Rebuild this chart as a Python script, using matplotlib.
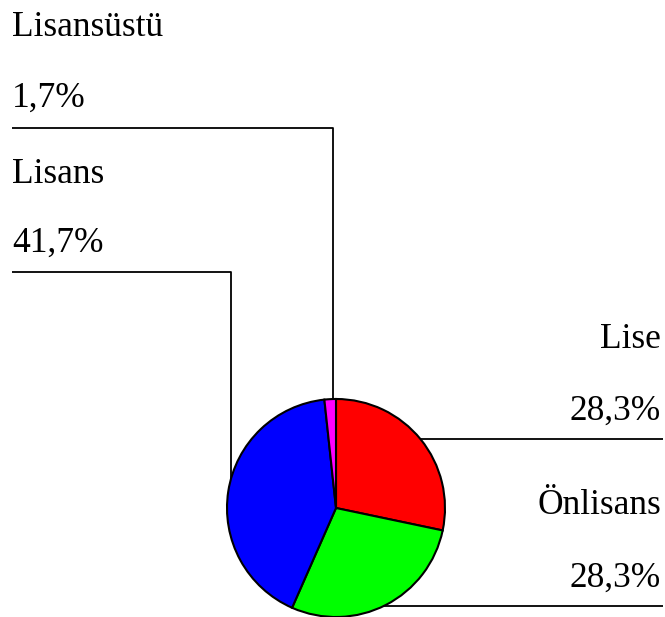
import matplotlib

matplotlib.use("Agg")
import matplotlib.pyplot as plt

labels = ["Lise", "Önlisans", "Lisans", "Lisansüstü"]
shares = [28.3, 28.3, 41.7, 1.7]
colors = ["#ff0000", "#00ff00", "#0000ff", "#ff00ff"]
pct_labels = ["28,3%", "28,3%", "41,7%", "1,7%"]

W, H = 665, 617
fig = plt.figure(figsize=(W / 100, H / 100), dpi=100)
ax = fig.add_axes([0, 0, 1, 1])

cx, cy, r = 336, H - 508, 109
ax.pie(
    shares,
    colors=colors,
    startangle=90,
    counterclock=False,
    center=(cx, cy),
    radius=r,
    frame=True,
    wedgeprops=dict(edgecolor="black", linewidth=1.5),
)
ax.set_xlim(0, W)
ax.set_ylim(0, H)
ax.set_aspect("equal")
ax.axis("off")


def img(y):
    return H - y


line_kw = dict(color="black", linewidth=1.3, solid_capstyle="butt")
# leader lines
ax.plot([12, 333, 333], [img(128), img(128), img(400)], **line_kw)
ax.plot([12, 231, 231], [img(272), img(272), img(479)], **line_kw)
ax.plot([420, 663], [img(439), img(439)], **line_kw)
ax.plot([383, 663], [img(606), img(606)], **line_kw)

font = dict(family="Liberation Serif", fontsize=25.5, va="baseline")
ax.text(12, img(36), labels[3], ha="left", **font)
ax.text(12, img(107), pct_labels[3], ha="left", **font)
ax.text(12, img(183), labels[2], ha="left", **font)
ax.text(12, img(252), pct_labels[2], ha="left", **font)
ax.text(661, img(348), labels[0], ha="right", **font)
ax.text(661, img(420), pct_labels[0], ha="right", **font)
ax.text(661, img(514), labels[1], ha="right", **font)
ax.text(661, img(587), pct_labels[1], ha="right", **font)

fig.savefig("out.png", dpi=100)
